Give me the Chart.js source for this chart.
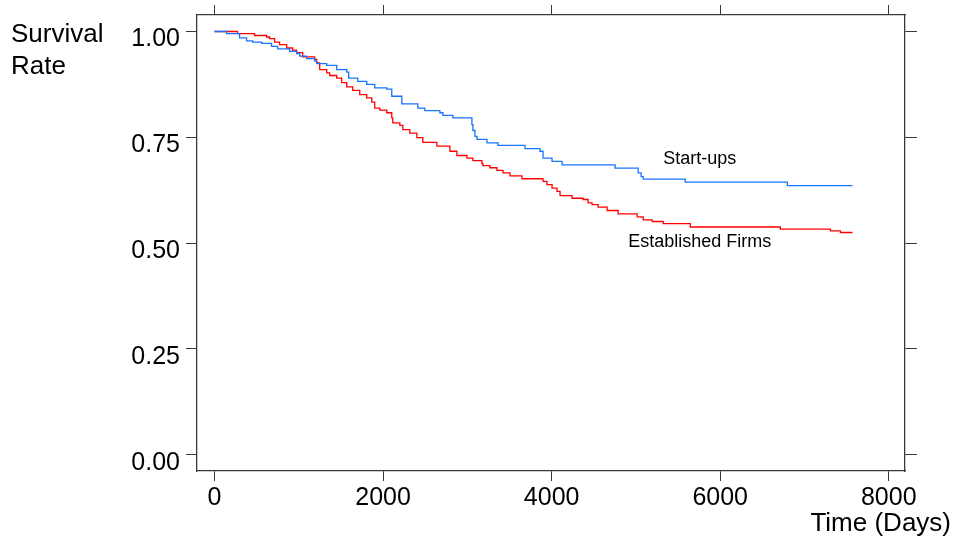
<!DOCTYPE html>
<html>
<head>
<meta charset="utf-8">
<script src="https://cdn.jsdelivr.net/npm/chart.js@4.4.1/dist/chart.umd.min.js"></script>
<style>
  html, body { margin: 0; padding: 0; background: #ffffff; }
  #wrap { width: 955px; height: 539px; position: relative; }
  canvas { display: block; }
</style>
</head>
<body>
<div id="wrap"><canvas id="c" width="955" height="539"></canvas></div>
<script>
// ---- Data ----
const startupTime = [0, 143, 297, 380, 452, 559, 677, 749, 892, 974, 1010, 1093, 1188, 1212, 1331, 1450, 1569, 1592, 1699, 1806, 1901, 2044, 2103, 2222, 2412, 2495, 2674, 2710, 2828, 3054, 3066, 3090, 3114, 3233, 3363, 3684, 3862, 3898, 4005, 4124, 4753, 5027, 5062, 5086, 5585, 6797, 7570];
const startupSurv = [1.000, 0.995, 0.985, 0.978, 0.975, 0.972, 0.965, 0.959, 0.953, 0.948, 0.942, 0.936, 0.930, 0.924, 0.920, 0.910, 0.904, 0.890, 0.882, 0.875, 0.867, 0.864, 0.847, 0.829, 0.819, 0.813, 0.808, 0.802, 0.796, 0.780, 0.766, 0.752, 0.745, 0.737, 0.731, 0.723, 0.717, 0.701, 0.693, 0.685, 0.677, 0.666, 0.657, 0.651, 0.644, 0.636, 0.636];

const firmTime = [0, 273, 475, 618, 654, 713, 772, 856, 927, 974, 1046, 1188, 1212, 1248, 1331, 1367, 1450, 1509, 1569, 1640, 1723, 1806, 1866, 1901, 1961, 2044, 2103, 2115, 2199, 2234, 2317, 2401, 2472, 2638, 2793, 2876, 2995, 3066, 3173, 3185, 3268, 3351, 3423, 3506, 3648, 3898, 3945, 4005, 4064, 4100, 4243, 4373, 4433, 4480, 4552, 4659, 4789, 5015, 5086, 5193, 5324, 5645, 6714, 7308, 7427, 7570];
const firmSurv = [1.000, 0.995, 0.9905, 0.987, 0.983, 0.975, 0.969, 0.961, 0.956, 0.950, 0.940, 0.934, 0.926, 0.910, 0.902, 0.896, 0.890, 0.879, 0.869, 0.861, 0.851, 0.843, 0.833, 0.819, 0.814, 0.808, 0.796, 0.784, 0.778, 0.768, 0.760, 0.749, 0.738, 0.729, 0.717, 0.707, 0.701, 0.695, 0.688, 0.683, 0.678, 0.672, 0.666, 0.659, 0.652, 0.646, 0.638, 0.630, 0.622, 0.612, 0.606, 0.603, 0.595, 0.591, 0.585, 0.577, 0.569, 0.562, 0.555, 0.551, 0.546, 0.538, 0.533, 0.529, 0.525, 0.525];

const xTickValues = [0, 2000, 4000, 6000, 8000];
const yTickValues = [0, 0.25, 0.5, 0.75, 1.0];

const seriesNames = ["Start-ups", "Established Firms"];
const yAxisTitle = ["Survival", "Rate"];
const xAxisTitle = "Time (Days)";

// label anchors in data coordinates
const labelTimes = [5757, 5757];
const labelSurv = [0.6995, 0.503];

// ---- Chart ----
const FONT = "'Liberation Sans', Arial, Helvetica, sans-serif";
const AXIS_COLOR = '#3a3a3a';

const toPts = (t, s) => t.map((v, i) => ({ x: v, y: s[i] }));
const setTicks = (vals) => (scale) => { scale.ticks = vals.map(v => ({ value: v })); };
const noPad = (s) => { s.paddingTop = 0; s.paddingBottom = 0; s.paddingLeft = 0; s.paddingRight = 0; };

const textPlugin = {
  id: 'texts',
  afterDraw(chart) {
    const ctx = chart.ctx;
    const xs = chart.scales.x, ys = chart.scales.y;
    ctx.save();
    ctx.fillStyle = '#000';
    // series labels
    ctx.font = '18px ' + FONT;
    ctx.textAlign = 'center';
    ctx.textBaseline = 'middle';
    seriesNames.forEach((n, i) => {
      ctx.fillText(n, xs.getPixelForValue(labelTimes[i]), ys.getPixelForValue(labelSurv[i]));
    });
    // y title (top-left, horizontal)
    ctx.font = '26px ' + FONT;
    ctx.textAlign = 'left';
    ctx.textBaseline = 'alphabetic';
    ctx.fillText(yAxisTitle[0], 11, 42);
    ctx.fillText(yAxisTitle[1], 11, 74);
    // x title (bottom-right)
    ctx.textAlign = 'right';
    ctx.fillText(xAxisTitle, 951, 531);
    ctx.restore();
  }
};

const gridCommon = { drawOnChartArea: false, drawTicks: true, color: AXIS_COLOR, lineWidth: 1 };
const borderCommon = { display: true, color: AXIS_COLOR, width: 1.3 };

new Chart(document.getElementById('c'), {
  type: 'line',
  data: {
    datasets: [
      { label: seriesNames[0], data: toPts(startupTime, startupSurv), borderColor: '#1873ff', borderWidth: 1.3, pointRadius: 0, stepped: true, fill: false },
      { label: seriesNames[1], data: toPts(firmTime, firmSurv), borderColor: '#ff0000', borderWidth: 1.3, pointRadius: 0, stepped: true, fill: false }
    ]
  },
  options: {
    responsive: false,
    animation: false,
    devicePixelRatio: 1,
    layout: { padding: 0 },
    plugins: { legend: { display: false }, tooltip: { enabled: false } },
    scales: {
      x: {
        type: 'linear', position: 'bottom', min: -208, max: 8193,
        afterBuildTicks: setTicks(xTickValues),
        afterFit: (s) => { s.height = 68; noPad(s); },
        grid: Object.assign({}, gridCommon, { tickLength: 10 }),
        border: borderCommon,
        ticks: { color: '#000', font: { family: FONT, size: 25 }, padding: 2, maxRotation: 0, autoSkip: false, callback: (v) => String(v) }
      },
      x2: {
        type: 'linear', position: 'top', min: -208, max: 8193,
        afterBuildTicks: setTicks(xTickValues),
        afterFit: (s) => { s.height = 15; noPad(s); },
        grid: Object.assign({}, gridCommon, { tickLength: 10 }),
        border: borderCommon,
        ticks: { display: false }
      },
      y: {
        type: 'linear', position: 'left', min: -0.0386, max: 1.039,
        afterBuildTicks: setTicks(yTickValues),
        afterFit: (s) => { s.width = 197; noPad(s); },
        grid: Object.assign({}, gridCommon, { tickLength: 11 }),
        border: borderCommon,
        ticks: { color: '#000', font: { family: FONT, size: 25 }, padding: 6, labelOffset: 8, autoSkip: false, callback: (v) => Number(v).toFixed(2) }
      },
      y2: {
        type: 'linear', position: 'right', min: -0.0386, max: 1.039,
        afterBuildTicks: setTicks(yTickValues),
        afterFit: (s) => { s.width = 50; noPad(s); },
        grid: Object.assign({}, gridCommon, { tickLength: 12 }),
        border: borderCommon,
        ticks: { display: false }
      }
    }
  },
  plugins: [textPlugin]
});
</script>
</body>
</html>
